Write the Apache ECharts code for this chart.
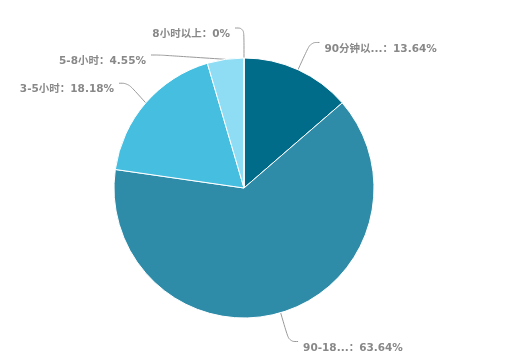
<!DOCTYPE html>
<html><head><meta charset="utf-8">
<script src="https://cdn.jsdelivr.net/npm/echarts@6/dist/echarts.min.js"></script>
<style>html,body{margin:0;padding:0;background:#fff}#c{width:507px;height:359px}</style>
</head><body><div id="c"></div>
<script>
var categories = ['90分钟以内', '90-180分钟', '3-5小时', '5-8小时', '8小时以上'];
var values = [3, 14, 4, 1, 0];
var colors = ['#006C8A', '#2E8CA9', '#45BEE0', '#8EDDF4', '#B5E8F7'];
var total = values.reduce(function (a, b) { return a + b; }, 0);

var fontFam = '"DejaVu Sans", "Noto Sans CJK SC", sans-serif';
var chart = echarts.init(document.getElementById('c'));
chart.setOption({
  animation: false,
  color: colors,
  series: [{
    type: 'pie',
    center: [244, 188],
    radius: [0, 130],
    startAngle: 90,
    clockwise: true,
    avoidLabelOverlap: true,
    itemStyle: { borderColor: '#fff', borderWidth: 1 },
    label: {
      color: '#888',
      fontWeight: 'bold',
      fontSize: 10.5,
      fontFamily: fontFam,
      lineHeight: 19,
      padding: [6, 0, 0, 0],
      backgroundColor: 'rgba(255,255,255,0)',
      formatter: function (p) {
        var n = p.name.length > 5 ? p.name.slice(0, 5) + '...' : p.name;
        var pct = (p.value / total * 100).toFixed(2).replace(/\.00$/, '');
        return '{t|' + n + '：' + pct + '%}';
      },
      rich: {
        t: {
          color: '#888',
          fontWeight: 'bold',
          fontSize: 10.5,
          fontFamily: fontFam,
          lineHeight: 19,
          padding: [7, 0, 0, 0]
        }
      }
    },
    labelLine: { length: 30, length2: 9, smooth: 0.4, lineStyle: { color: '#999', width: 1 } },
    data: categories.map(function (c, i) { return { name: c, value: values[i] }; })
  }]
});
</script></body></html>
